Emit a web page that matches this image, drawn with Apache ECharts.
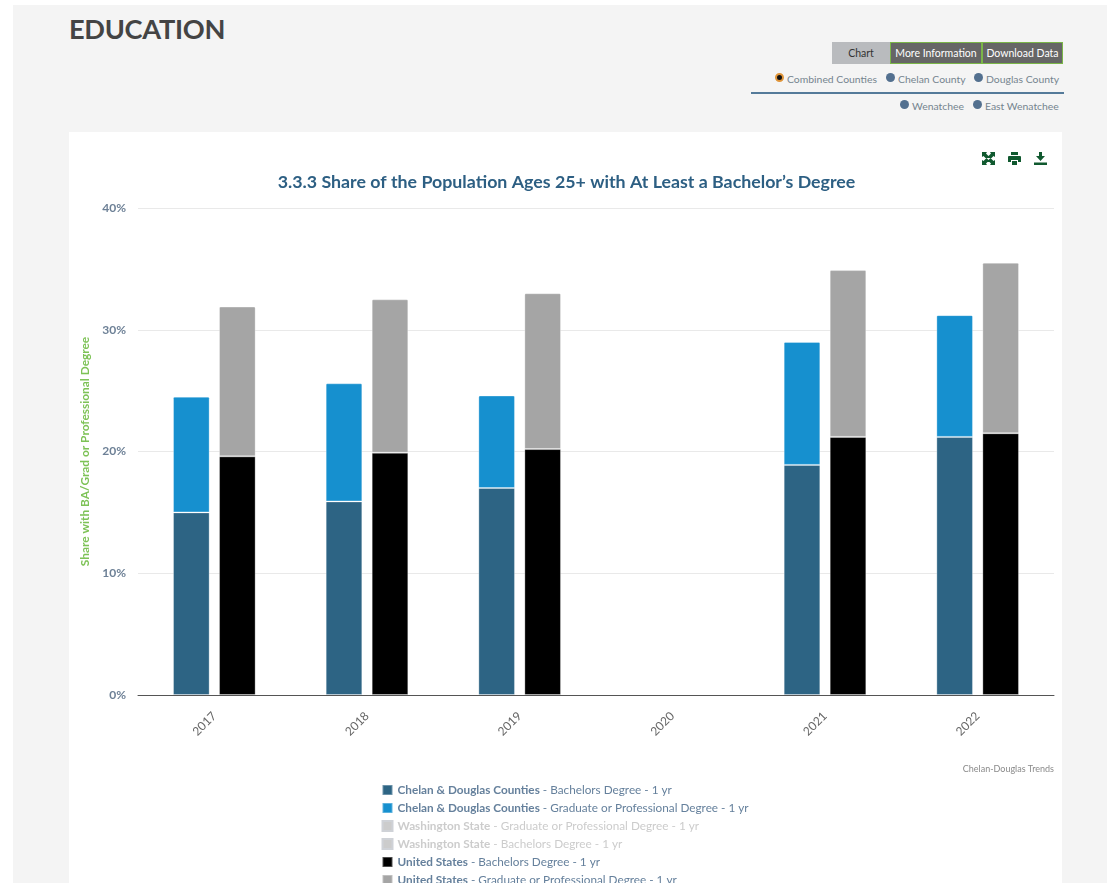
<!DOCTYPE html>
<html>
<head>
<meta charset="utf-8">
<title>Education</title>
<script src="https://cdn.jsdelivr.net/npm/echarts@6/dist/echarts.min.js"></script>
<style>
  html, body { margin: 0; padding: 0; background: #fff; overflow: hidden; }
  body { width: 1109px; height: 884px; position: relative; font-family: Lato, sans-serif; }
  .page { position: absolute; left: 13px; top: 5px; width: 1094px; height: 878px; background: #f4f4f4; }
  h1 { position: absolute; left: 69px; top: 11px; margin: 0; font-size: 27.2px; line-height: 36px; font-weight: bold; color: #444; letter-spacing: -0.3px; }
  .btn { position: absolute; top: 42px; height: 22px; line-height: 22px; text-align: center; font-size: 10.5px; box-sizing: border-box; }
  .btn.on { background: #b9bbbe; color: #333; line-height: 22px; }
  .btn.off { background: #666; color: #fff; border: 1px solid #7ab648; line-height: 20px; }
  .radio { position: absolute; font-size: 10.4px; line-height: 14px; color: #75848f; white-space: nowrap; }
  .radio i { position: absolute; left: -12px; top: 1px; width: 9px; height: 9px; border-radius: 50%; background: #53708f; }
  .radio.sel i { background: #111; box-sizing: border-box; border: 2px solid #e0953a; }
  .rule { position: absolute; left: 751px; top: 92px; width: 313px; height: 2px; background: #547a99; }
  #main { position: absolute; left: 69px; top: 132px; width: 993px; height: 751px; background: #fff; }
</style>
</head>
<body>
<div class="page"></div>
<h1>EDUCATION</h1>
<div class="btn on" style="left:832px;width:58px">Chart</div>
<div class="btn off" style="left:890px;width:92px">More Information</div>
<div class="btn off" style="left:982px;width:81px">Download Data</div>
<div class="radio sel" style="left:787px;top:72px"><i></i>Combined Counties</div>
<div class="radio" style="left:898px;top:72px"><i></i>Chelan County</div>
<div class="radio" style="left:986px;top:72px"><i></i>Douglas County</div>
<div class="rule"></div>
<div class="radio" style="left:912px;top:99px"><i></i>Wenatchee</div>
<div class="radio" style="left:985px;top:99px"><i></i>East Wenatchee</div>
<div id="main"></div>
<script>
const years = ["2017", "2018", "2019", "2020", "2021", "2022"];
// 2020 has no data in the source chart
const countiesBachelors = [15.0, 15.9, 17.0, null, 18.9, 21.2];
const countiesGraduate = [9.5, 9.7, 7.6, null, 10.1, 10.0];
const usBachelors = [19.6, 19.9, 20.2, null, 21.2, 21.5];
const usGraduate = [12.3, 12.6, 12.8, null, 13.7, 14.0];
// Washington State is switched off in the legend, its values are not visible
const stateGraduate = [];
const stateBachelors = [];

const names = [
  "Chelan & Douglas Counties - Bachelors Degree - 1 yr",
  "Chelan & Douglas Counties - Graduate or Professional Degree - 1 yr",
  "Washington State - Graduate or Professional Degree - 1 yr",
  "Washington State - Bachelors Degree - 1 yr",
  "United States - Bachelors Degree - 1 yr",
  "United States - Graduate or Professional Degree - 1 yr",
];

function makeSeries(name, data, stack, color, top) {
  return {
    name: name,
    type: "bar",
    stack: stack,
    data: data,
    barWidth: 36.6,
    barGap: "25.7%",
    itemStyle: {
      color: color,
      borderColor: "rgba(255,255,255,0.3)",
      borderWidth: 1,
      borderRadius: top ? [1, 1, 0, 0] : 0,
    },
  };
}

function noop() {}

const chart = echarts.init(document.getElementById("main"));
chart.setOption({
  animation: false,
  textStyle: { fontFamily: "Lato" },
  title: {
    text: "3.3.3 Share of the Population Ages 25+ with At Least a Bachelor’s Degree",
    left: 492.5,
    top: 36,
    textAlign: "center",
    textStyle: { fontFamily: "Lato", fontSize: 17.8, fontWeight: "bold", color: "#2d5f83" },
  },
  toolbox: {
    right: 0,
    top: 5,
    itemSize: 13,
    itemGap: 13,
    iconStyle: { color: "#10592f", borderWidth: 0 },
    feature: {
      myExpand: {
        show: true,
        title: "Full screen",
        icon: "path://M0 0H5L4 1.5L7 4.5L4.5 7L1.5 4L0 5ZM13 0V5L11.5 4L8.5 7L6 4.5L9 1.5L8 0ZM0 13V8L1.5 9L4.5 6L7 8.5L4 11.5L5 13ZM13 13H8L9 11.5L6 8.5L8.5 6L11.5 9L13 8Z",
        onclick: noop,
      },
      myPrint: {
        show: true,
        title: "Print",
        icon: "path://M3 0H10V3H3ZM1 4H12Q13 4 13 5V10H10V8H3V10H0V5Q0 4 1 4ZM4 9H9V13H4Z",
        onclick: noop,
      },
      myDownload: {
        show: true,
        title: "Download",
        icon: "path://M5 0H8V4H11L6.5 9L2 4H5ZM0 10.5H13V13H0Z",
        onclick: noop,
      },
    },
  },
  legend: {
    orient: "vertical",
    left: 307.5,
    top: 647,
    height: 300,
    itemWidth: 10,
    itemHeight: 10,
    itemGap: 6,
    icon: "rect",
    inactiveColor: "#ccc",
    selected: { [names[2]]: false, [names[3]]: false },
    data: names,
    formatter: function (name) {
      const i = name.indexOf(" - ");
      return "{b|" + name.slice(0, i) + "}" + name.slice(i);
    },
    textStyle: {
      fontFamily: "Lato",
      fontSize: 11.75,
      color: "#65809c",
      rich: { b: { fontWeight: "bold", fontFamily: "Lato", fontSize: 11.75 } },
    },
  },
  grid: { left: 69, top: 76, right: 8, height: 487 },
  xAxis: {
    type: "category",
    data: years,
    z: 5,
    axisTick: { show: false },
    axisLine: { lineStyle: { color: "#555", width: 1 } },
    axisLabel: { rotate: 45, color: "#666", fontSize: 12, margin: 19 },
  },
  yAxis: {
    type: "value",
    min: 0,
    max: 40,
    interval: 10,
    name: "Share with BA/Grad or Professional Degree",
    nameLocation: "middle",
    nameGap: 41,
    nameTextStyle: { color: "#7dc256", fontSize: 11.9, fontWeight: "bold", fontFamily: "Lato" },
    axisLabel: { formatter: "{value}%", color: "#6d8096", fontSize: 12, fontWeight: "bold", margin: 12 },
    splitLine: { lineStyle: { color: "#e9e9e9", width: 1 } },
  },
  series: [
    makeSeries(names[0], countiesBachelors, "counties", "#2d6484", false),
    makeSeries(names[1], countiesGraduate, "counties", "#1690cf", true),
    makeSeries(names[2], stateGraduate, "state", "#7ab648", false),
    makeSeries(names[3], stateBachelors, "state", "#4a7c2c", true),
    makeSeries(names[4], usBachelors, "us", "#000000", false),
    makeSeries(names[5], usGraduate, "us", "#a5a5a5", true),
  ],
  graphic: [
    {
      type: "text",
      right: 8,
      top: 633,
      style: { text: "Chelan-Douglas Trends", fontFamily: "Lato", fontSize: 9, fill: "#8a8a8a" },
    },
  ],
});
</script>
</body>
</html>
